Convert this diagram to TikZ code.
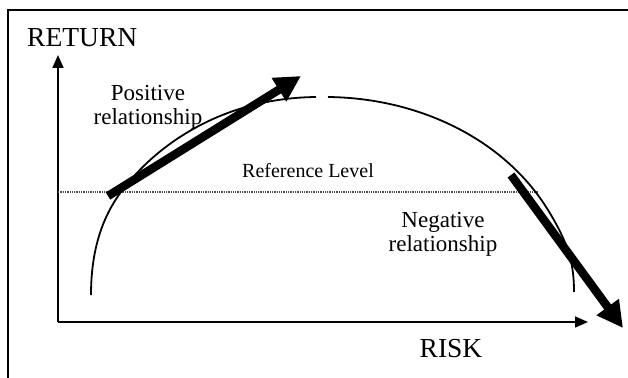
\documentclass[tikz,border=0pt]{standalone}
\usepackage{fontspec}
\setmainfont{Liberation Serif}
\usetikzlibrary{arrows.meta}
\begin{document}
\begin{tikzpicture}[x=1pt,y=-1pt,
  frameline/.style={line width=1.8pt},
  axisline/.style={line width=1.6pt,-{Triangle[length=13pt,width=11pt]}},
  curveline/.style={line width=1.8pt},
  refline/.style={line width=1.3pt,densely dotted,black!70},
  bigarrow/.style={line width=8.5pt,-{Triangle[length=26pt,width=26pt]}},
  biglabel/.style={font=\fontsize{27.5}{30}\selectfont},
  lbl/.style={font=\fontsize{23}{24}\selectfont,align=center,inner sep=0pt},
]
\useasboundingbox (0,0) rectangle (628,377);
\fill[white] (0,0) rectangle (628,377);

% outer frame (open at right and bottom)
\draw[frameline] (8,378) -- (8,10) -- (629,10);

% axes
\coordinate (O) at (58,322);
\coordinate (Ytop) at (58,55);
\coordinate (Xend) at (588,322);
\draw[axisline] (O) -- (Ytop);
\draw[axisline] (O) -- (Xend);

\node[biglabel,anchor=west,inner sep=0pt] (ret) at (27,38) {RETURN};
\node[biglabel,inner sep=0pt] (risk) at (451,349) {RISK};

% reference level
\coordinate (R1) at (58,192);
\coordinate (R2) at (538,192);
\draw[refline] (R1) -- (R2);
\node[lbl,font=\fontsize{20}{22}\selectfont] (ref) at (308,171) {Reference Level};

% risk-return curve, drawn in two pieces with a small break at its top
\draw[curveline] (91,295) .. controls (91,245) and (105,212) .. (124,188)
  .. controls (160,142) and (225,98) .. (316,97);
\draw[curveline] (328,97) .. controls (420,98) and (505,140) .. (548,210)
  .. controls (569.5,245) and (574,265) .. (574,292);

% relationship arrows
\coordinate (P1) at (108,196);
\coordinate (P2) at (301,76);
\draw[bigarrow] (P1) -- (P2);
\coordinate (N1) at (511,175);
\coordinate (N2) at (623,328);
\draw[bigarrow] (N1) -- (N2);

\node[lbl] (pos) at (148,107) {Positive\\relationship};
\node[lbl] (neg) at (443,234) {Negative\\relationship};
\end{tikzpicture}
\end{document}
